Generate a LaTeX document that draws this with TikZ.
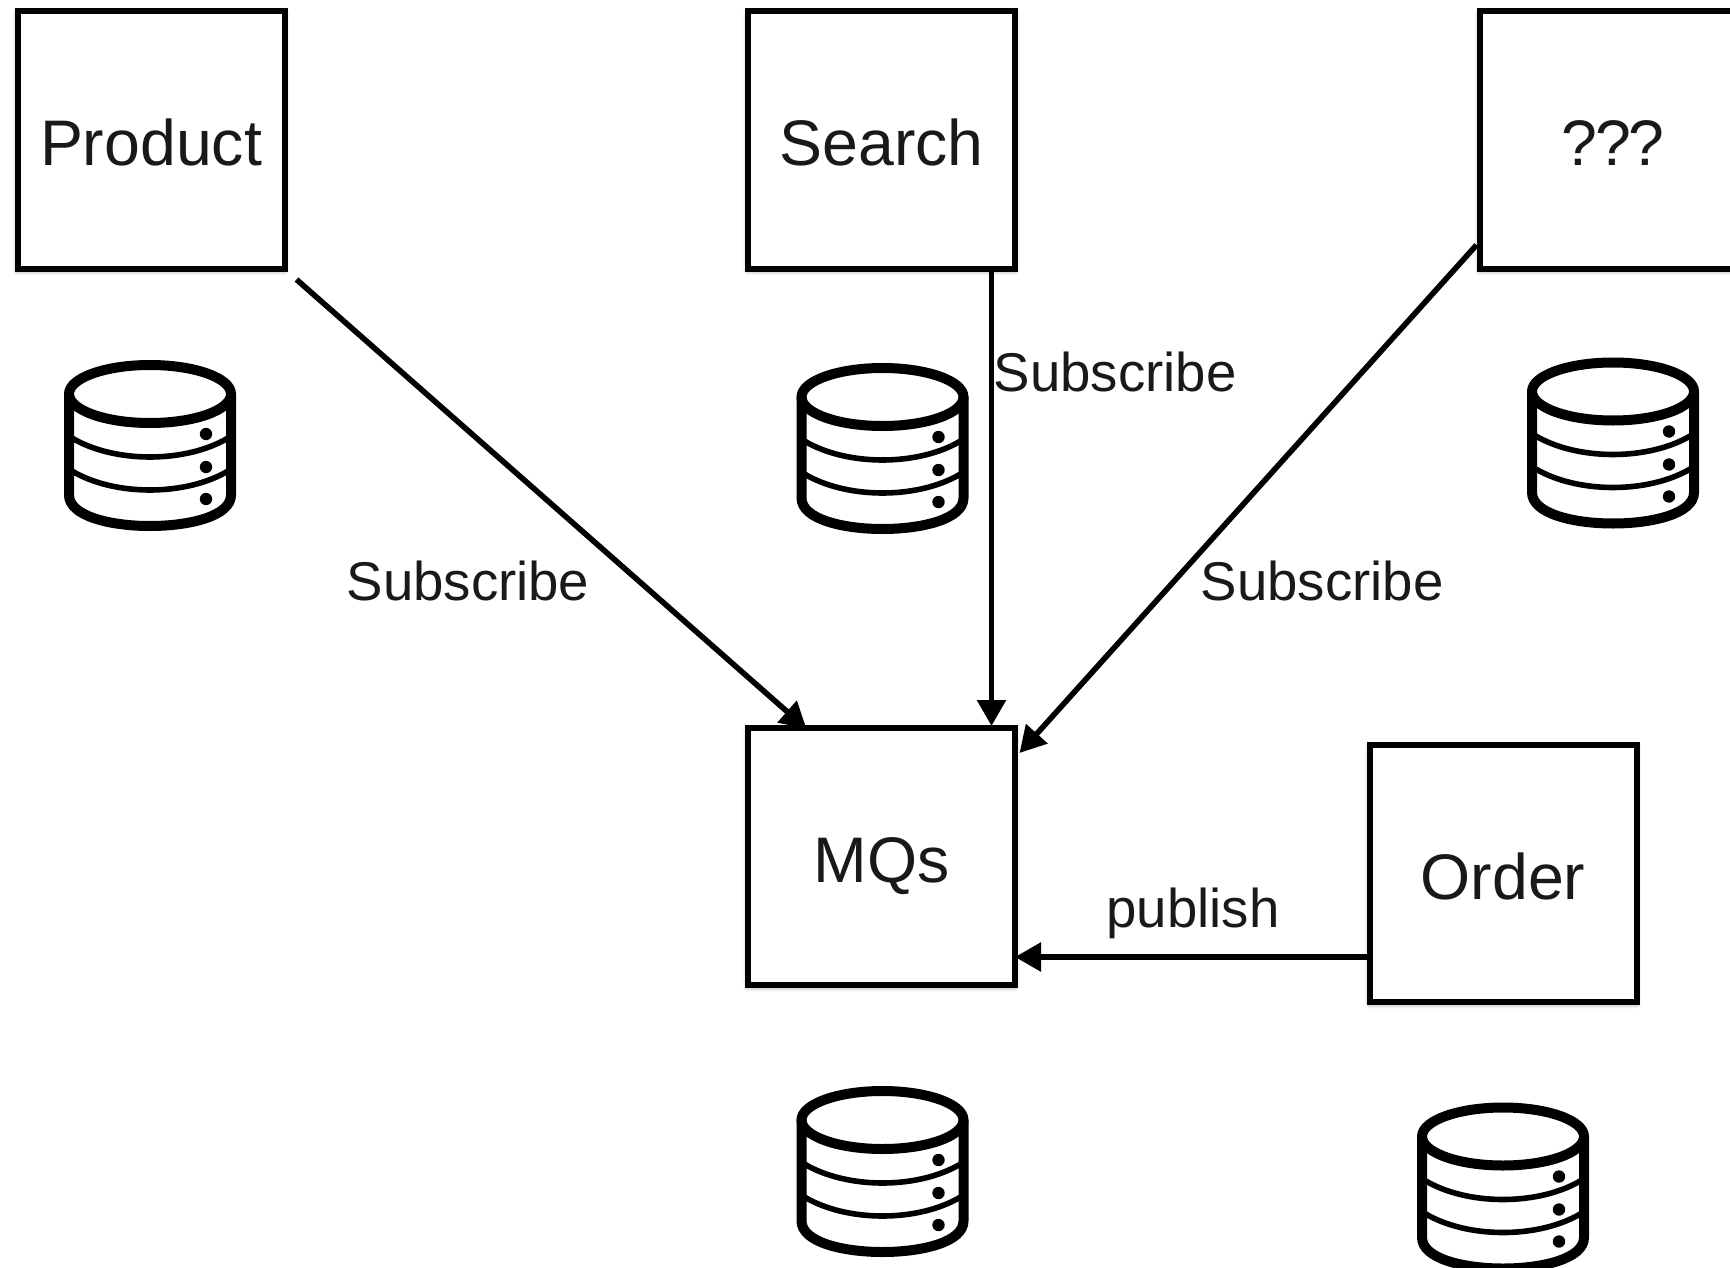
\documentclass[tikz,border=0pt]{standalone}
\usepackage{fontspec}
\setmainfont{Liberation Sans}
\usetikzlibrary{arrows.meta,shadows.blur}
\pgfdeclarelayer{bg}
\pgfsetlayers{bg,main}
\tikzset{
  box/.style={draw=black,fill=white,line width=3pt,minimum width=133.5pt,minimum height=128.5pt,inner sep=0pt,
    font=\fontsize{32.2pt}{36pt}\selectfont,text=black!90,text height=25.75pt,text depth=0pt,
    blur shadow={shadow xshift=0pt,shadow yshift=-1pt,shadow blur radius=2.5pt,shadow blur steps=8,shadow opacity=45}},
  flow/.style={line width=2.8pt,-{Triangle[length=13pt,width=14pt]}},
  lbl/.style={font=\fontsize{27.3pt}{30pt}\selectfont,text=black!90,inner sep=0pt},
  pics/dbicon/.style={code={
    \draw[line width=5pt,line join=round] (0,0) ellipse (81 and 29);
    \draw[line width=5pt,line cap=round] (-81,0) -- (-81,101)
      .. controls (-81,122) and (-40,132) .. (0,132)
      .. controls (40,132) and (81,122) .. (81,101) -- (81,0);
    \draw[line width=2.8pt] (-78,44) .. controls (-58,56) and (-30,63) .. (0,63)
      .. controls (30,63) and (58,56) .. (78,44);
    \draw[line width=2.8pt] (-78,77) .. controls (-58,89) and (-30,96) .. (0,96)
      .. controls (30,96) and (58,89) .. (78,77);
    \fill (56,40) circle (6.2) (56,73) circle (6.2) (56,105) circle (6.2);
  }}
}
\begin{document}
\begin{tikzpicture}[x=0.5pt,y=-0.5pt]
\useasboundingbox (0,0) rectangle (1730,1268);
\clip (0,0) rectangle (1730,1268);
\node[box] (product) at (151,140) {Product};
\node[box] (search) at (881.5,140) {Search};
\node[box] (unknown) at (1613,140) {\addfontfeature{LetterSpace=-4}???};
\node[box] (mqs) at (881.5,856.5) {MQs};
\node[box] (order) at (1503,873.5) {Order};
\pic (dbproduct) at (150,394) {dbicon};
\pic (dbsearch) at (882.5,397) {dbicon};
\pic (dbunknown) at (1613,391.5) {dbicon};
\pic (dbmqs) at (882.5,1120) {dbicon};
\pic (dborder) at (1503,1136.5) {dbicon};
\coordinate (os) at ([yshift=-41.75pt]order.west);
\coordinate (ss) at ([xshift=55pt]search.south);
\begin{pgfonlayer}{bg}
\draw[flow] ([xshift=4.5pt,yshift=-4pt]product.south east) -- ([xshift=-37.5pt,yshift=-1.85pt]mqs.north);
\draw[flow] (ss) -- ([yshift=-0.5pt]ss |- mqs.north);
\draw[flow] ([yshift=-52.5pt]unknown.west) -- ([xshift=0.75pt,yshift=-14pt]mqs.north east);
\draw[flow] (os) -- ([xshift=-1.5pt]os -| mqs.east);
\end{pgfonlayer}
\node[lbl] (l1) at (468,581) {Subscribe};
\node[lbl] (l2) at (1115,372) {Subscribe};
\node[lbl] (l3) at (1322,581) {Subscribe};
\node[lbl] (l4) at (1193,913) {publish};
\end{tikzpicture}
\end{document}
